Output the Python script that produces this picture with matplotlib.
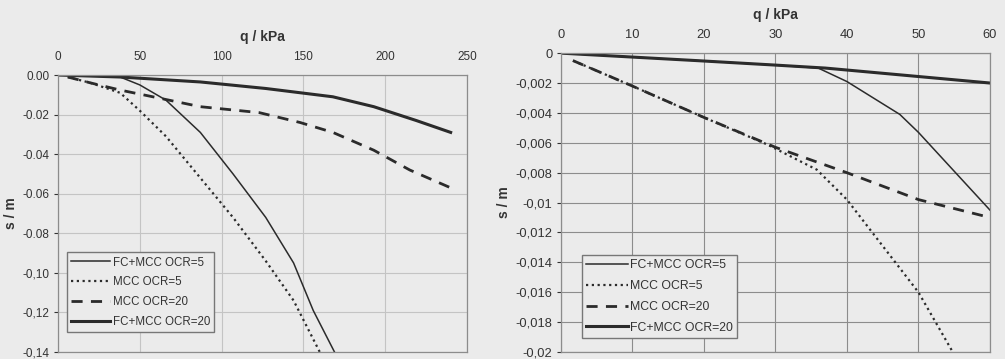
import numpy as np
import matplotlib
matplotlib.use("Agg")
import matplotlib.pyplot as plt

plt.rcParams["font.family"] = ["Liberation Sans", "DejaVu Sans"]

BG = "#ebebeb"
INK = "#2b2b2b"
GRID = "#8c8c8c"

# ── left panel data (q in kPa, s in m) ──
q_fc5_L  = [0, 20, 38, 50, 66, 87, 107, 127, 144, 156, 169]
s_fc5_L  = [0, -0.0005, -0.001, -0.005, -0.0127, -0.029, -0.050, -0.072, -0.095, -0.119, -0.140]
q_m5_L   = [6, 20, 38, 50, 66, 87, 107, 127, 144, 160]
s_m5_L   = [-0.001, -0.004, -0.009, -0.018, -0.031, -0.052, -0.072, -0.094, -0.114, -0.140]
q_m20_L  = [6, 20, 38, 58, 87, 123, 148, 168, 193, 215, 240]
s_m20_L  = [-0.001, -0.004, -0.0076, -0.011, -0.016, -0.019, -0.024, -0.029, -0.038, -0.048, -0.057]
q_fc20_L = [0, 38, 87, 127, 168, 193, 219, 240]
s_fc20_L = [0, -0.001, -0.0035, -0.0068, -0.011, -0.016, -0.023, -0.029]

# ── right panel data ──
q_fc5_R  = [0, 19, 30, 36, 40, 47.4, 50, 60]
s_fc5_R  = [0, -0.0005, -0.0008, -0.001, -0.0019, -0.0041, -0.0053, -0.0105]
q_m5_R   = [1.7, 10, 20, 28.8, 35.8, 40, 50, 54.8]
s_m5_R   = [-0.0005, -0.0022, -0.0043, -0.0061, -0.0078, -0.0098, -0.016, -0.020]
q_m20_R  = [1.7, 10, 20, 30, 40, 50, 60]
s_m20_R  = [-0.0005, -0.0022, -0.0043, -0.0063, -0.008, -0.0098, -0.011]
q_fc20_R = [0, 19, 30, 37, 60]
s_fc20_R = [0, -0.0005, -0.0008, -0.001, -0.002]

labels = ["FC+MCC OCR=5", "MCC OCR=5", "MCC OCR=20", "FC+MCC OCR=20"]

xt_L = [0, 50, 100, 150, 200, 250]
yt_L = [0, -0.02, -0.04, -0.06, -0.08, -0.10, -0.12, -0.14]
yl_L = ["0.00", "-0.02", "-0.04", "-0.06", "-0.08", "-0,10", "-0,12", "-0,14"]
xt_R = [0, 10, 20, 30, 40, 50, 60]
yt_R = [0, -0.002, -0.004, -0.006, -0.008, -0.01, -0.012, -0.014, -0.016, -0.018, -0.02]
yl_R = ["0", "-0,002", "-0,004", "-0,006", "-0,008", "-0,01", "-0,012", "-0,014",
        "-0,016", "-0,018", "-0,02"]

fig = plt.figure(figsize=(10.05, 3.59), dpi=100, facecolor=BG)
axL = fig.add_axes([0.0577, 0.0195, 0.407, 0.7715])
axR = fig.add_axes([0.558, 0.0195, 0.427, 0.8325])


def draw(ax, data, xt, yt, yl, xlim, ylim, grid_col, tick_fs, ylab_pad,
         leg_anchor, lspace, leg_fs):
    ax.set_facecolor(BG)
    (q1, s1), (q2, s2), (q3, s3), (q4, s4) = data
    ax.plot(q1, s1, color=INK, lw=1.1, label=labels[0])
    ax.plot(q2, s2, color=INK, lw=1.6, ls=(0, (1, 1.6)), label=labels[1])
    ax.plot(q3, s3, color=INK, lw=2.0, ls=(0, (4, 3)), label=labels[2])
    ax.plot(q4, s4, color=INK, lw=2.2, label=labels[3])
    ax.set_xlim(*xlim)
    ax.set_ylim(*ylim)
    ax.xaxis.tick_top()
    ax.xaxis.set_label_position("top")
    ax.set_xticks(xt)
    ax.set_yticks(yt)
    ax.set_yticklabels(yl)
    ax.tick_params(labelsize=tick_fs, colors="#333333", length=3, width=0.8, pad=3)
    ax.tick_params(axis="x", length=0, pad=9)
    ax.set_xlabel("q / kPa", fontsize=10, fontweight="bold", color="#333333", labelpad=7)
    ax.set_ylabel("s / m", fontsize=10, fontweight="bold", color="#333333", labelpad=ylab_pad)
    ax.grid(color=grid_col, lw=0.8)
    ax.set_axisbelow(True)
    for sp in ax.spines.values():
        sp.set_color(GRID)
        sp.set_linewidth(0.9)
    leg = ax.legend(loc="lower left", bbox_to_anchor=leg_anchor, fontsize=leg_fs,
                    handlelength=3.4, labelspacing=lspace, borderpad=0.35,
                    handletextpad=0.2, frameon=True, fancybox=False,
                    borderaxespad=0)
    leg.get_frame().set_facecolor(BG)
    leg.get_frame().set_edgecolor("#777777")
    leg.get_frame().set_alpha(1)
    for t in leg.get_texts():
        t.set_color("#333333")


draw(axL, [(q_fc5_L, s_fc5_L), (q_m5_L, s_m5_L), (q_m20_L, s_m20_L), (q_fc20_L, s_fc20_L)],
     xt_L, yt_L, yl_L, (0, 250), (-0.14, 0), "#c4c4c4", 8.5, 3, (0.022, 0.072), 0.68, 8.3)

draw(axR, [(q_fc5_R, s_fc5_R), (q_m5_R, s_m5_R), (q_m20_R, s_m20_R), (q_fc20_R, s_fc20_R)],
     xt_R, yt_R, yl_R, (0, 60), (-0.02, 0), "#8c8c8c", 9.3, 3, (0.049, 0.047), 0.72, 8.8)

fig.savefig("out.png", dpi=100, facecolor=BG)
